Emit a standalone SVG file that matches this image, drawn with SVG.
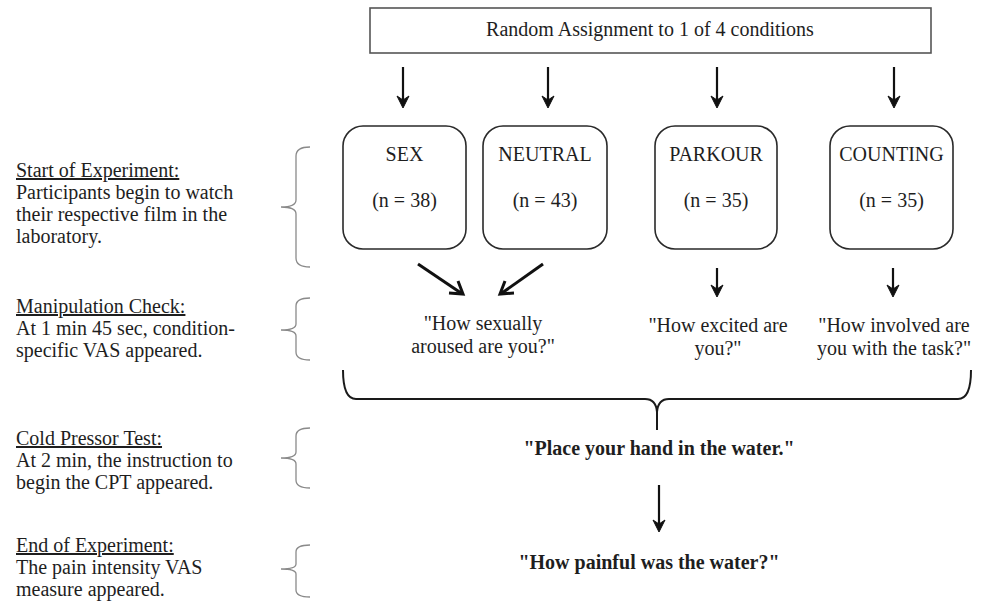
<svg xmlns="http://www.w3.org/2000/svg" width="984" height="607" viewBox="0 0 984 607">
<style>
  text { font-family: "Liberation Serif", "Times New Roman", serif; fill: #1e1e1e; font-size: 20px; }
  .c { text-anchor: middle; }
  .b { font-weight: bold; }
  .u { text-decoration: underline; }
  .box { fill: #ffffff; stroke: #2a2a2a; stroke-width: 1.6; }
  .brace { fill: none; stroke: #8a8a8a; stroke-width: 1.3; }
  .big { fill: none; stroke: #1a1a1a; stroke-width: 2; }
  .arr { fill: none; stroke: #111; stroke-width: 2.2; }
  .diag { fill: none; stroke: #111; stroke-width: 3; }
  .head { fill: #111; stroke: #111; stroke-width: 1; stroke-linejoin: round; }
</style>
<rect width="984" height="607" fill="#ffffff"/>

<g id="assign">
  <rect x="370" y="8" width="561" height="45" fill="#fff" stroke="#555" stroke-width="1.6"/>
  <text class="c" x="650" y="36">Random Assignment to 1 of 4 conditions</text>
</g>

<g id="sex">
  <rect class="box" x="343" y="126" width="123" height="123" rx="20"/>
  <text class="c" x="404.5" y="161">SEX</text>
  <text class="c" x="404.5" y="207">(n = 38)</text>
</g>
<g id="neutral">
  <rect class="box" x="483" y="126" width="124" height="123" rx="20"/>
  <text class="c" x="545" y="161">NEUTRAL</text>
  <text class="c" x="545" y="207">(n = 43)</text>
</g>
<g id="parkour">
  <rect class="box" x="655" y="126" width="122" height="123" rx="20"/>
  <text class="c" x="716" y="161">PARKOUR</text>
  <text class="c" x="716" y="207">(n = 35)</text>
</g>
<g id="counting">
  <rect class="box" x="830" y="126" width="123" height="123" rx="20"/>
  <text class="c" x="891.5" y="161">COUNTING</text>
  <text class="c" x="891.5" y="207">(n = 35)</text>
</g>

<g id="q-sex">
  <text class="c" x="483" y="330">"How sexually</text>
  <text class="c" x="483" y="353">aroused are you?"</text>
</g>
<g id="q-parkour">
  <text class="c" x="718" y="332">"How excited are</text>
  <text class="c" x="718" y="355">you?"</text>
</g>
<g id="q-counting">
  <text class="c" x="894" y="332">"How involved are</text>
  <text class="c" x="894" y="355">you with the task?"</text>
</g>

<g id="cpt">
  <text class="c b" x="659" y="455">"Place your hand in the water."</text>
</g>
<g id="pain">
  <text class="c b" x="649" y="569">"How painful was the water?"</text>
</g>

<g id="labels">
  <text x="16" y="177" class="u">Start of Experiment:</text>
  <text x="16" y="199">Participants begin to watch</text>
  <text x="16" y="221">their respective film in the</text>
  <text x="16" y="243">laboratory.</text>

  <text x="16" y="313" class="u">Manipulation Check:</text>
  <text x="16" y="335">At 1 min 45 sec, condition-</text>
  <text x="16" y="357">specific VAS appeared.</text>

  <text x="16" y="445" class="u">Cold Pressor Test:</text>
  <text x="16" y="467">At 2 min, the instruction to</text>
  <text x="16" y="489">begin the CPT appeared.</text>

  <text x="16" y="552" class="u">End of Experiment:</text>
  <text x="16" y="574">The pain intensity VAS</text>
  <text x="16" y="596">measure appeared.</text>
</g>

<g id="braces">
  <path class="brace" d="M310,147 Q296,147 296,156 L296,200 Q296,207 281,207 Q296,207 296,214 L296,258 Q296,267 310,267"/>
  <path class="brace" d="M310,298 Q296,298 296,306 L296,324 Q296,330 281,330 Q296,330 296,336 L296,352 Q296,360 310,360"/>
  <path class="brace" d="M310,428 Q296,428 296,436 L296,452 Q296,458 281,458 Q296,458 296,464 L296,480 Q296,488 310,488"/>
  <path class="brace" d="M310,545 Q296,545 296,552 L296,564 Q296,569 281,569 Q296,569 296,574 L296,590 Q296,597 310,597"/>
  <path class="big" d="M343,370 Q343,399 356,399 L645,399 Q656,399 657,412 L657,430"/>
  <path class="big" d="M971,370 Q971,399 958,399 L669,399 Q658,399 657,412"/>
</g>

<g id="connectors">
  <!-- top arrows -->
  <path class="arr" d="M403,67 L403,104"/>
  <path class="head" d="M397,96 L403,108 L409,96 L403,100 Z"/>
  <path class="arr" d="M548,67 L548,104"/>
  <path class="head" d="M542,96 L548,108 L554,96 L548,100 Z"/>
  <path class="arr" d="M717,67 L717,104"/>
  <path class="head" d="M711,96 L717,108 L723,96 L717,100 Z"/>
  <path class="arr" d="M894,67 L894,104"/>
  <path class="head" d="M888,96 L894,108 L900,96 L894,100 Z"/>

  <!-- diagonal arrows -->
  <path class="diag" d="M418,264 L461,293"/>
  <path class="diag" d="M449,293 L463,294 L458,281"/>
  <path class="diag" d="M543,264 L502,293"/>
  <path class="diag" d="M505,281 L500,294 L514,293"/>

  <!-- small arrows -->
  <path class="arr" d="M717,268 L717,293"/>
  <path class="head" d="M711,285 L717,297 L723,285 L717,289 Z"/>
  <path class="arr" d="M893,268 L893,293"/>
  <path class="head" d="M887,285 L893,297 L899,285 L893,289 Z"/>

  <!-- bottom arrow -->
  <path class="arr" d="M659,485 L659,528"/>
  <path class="head" d="M653,520 L659,532 L665,520 L659,524 Z"/>
</g>
</svg>
